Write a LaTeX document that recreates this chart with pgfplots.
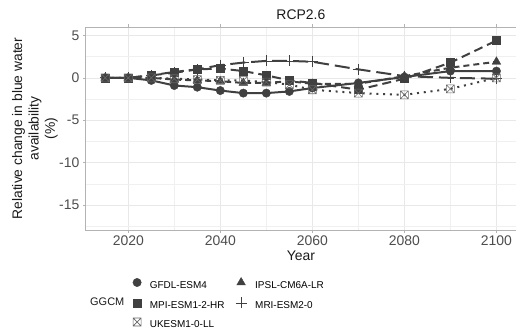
\documentclass[border=0pt]{standalone}
\usepackage{pgfplots}
\usepackage{pgfplotstable}
\pgfplotsset{compat=1.18}
\usepackage{fontspec}
\setmainfont{Liberation Sans}

\definecolor{ser}{RGB}{64,64,64}
\definecolor{gridmaj}{RGB}{232,232,232}
\definecolor{gridmin}{RGB}{240,240,240}
\definecolor{frame}{RGB}{179,179,179}
\definecolor{ticktext}{RGB}{77,77,77}
\definecolor{titletext}{RGB}{26,26,26}

% open square with a cross inside
\pgfdeclareplotmark{boxx}{%
  \pgfpathrectangle{\pgfpoint{-\pgfplotmarksize}{-\pgfplotmarksize}}{\pgfpoint{2\pgfplotmarksize}{2\pgfplotmarksize}}%
  \pgfpathmoveto{\pgfpoint{-\pgfplotmarksize}{-\pgfplotmarksize}}%
  \pgfpathlineto{\pgfpoint{\pgfplotmarksize}{\pgfplotmarksize}}%
  \pgfpathmoveto{\pgfpoint{-\pgfplotmarksize}{\pgfplotmarksize}}%
  \pgfpathlineto{\pgfpoint{\pgfplotmarksize}{-\pgfplotmarksize}}%
  \pgfusepathqstroke}

% relative change in blue water availability (%), RCP2.6
\pgfplotstableread{
year  gfdl  ipsl  mpi   mri   ukesm
2015  0.0   0.0   0.0   0.0   0.0
2020  0.0   0.0   0.0   0.0   0.0
2025 -0.3   0.0   0.3   0.3   0.0
2030 -0.9  -0.2   0.7   0.6  -0.1
2035 -1.1  -0.3   1.0   1.0  -0.2
2040 -1.5  -0.4   1.1   1.5  -0.3
2045 -1.8  -0.6   0.8   1.8  -0.3
2050 -1.8  -0.6   0.3   2.0  -0.5
2055 -1.6  -0.4  -0.3   2.0  -0.8
2060 -1.2  -0.7  -0.6   1.9  -1.4
2070 -0.6  -0.7  -1.4   1.0  -1.8
2080  0.1   0.2  -0.1   0.2  -2.0
2090  0.8   1.2   1.8   0.0  -1.3
2100  0.8   1.9   4.4  -0.1   0.0
}\rcp

\begin{document}
\begin{tikzpicture}
\useasboundingbox (0,0) rectangle (516bp,336bp);
\begin{axis}[
  at={(85.7bp,106bp)}, anchor=south west,
  scale only axis, width=430.3bp, height=203bp,
  clip=false,
  xmin=2010.75, xmax=2104.25, ymin=-17.95, ymax=6.0,
  xtick={2020,2040,2060,2080,2100},
  minor xtick={2030,2050,2070,2090},
  ytick={-15,-10,-5,0,5},
  minor ytick={-17.5,-12.5,-7.5,-2.5,2.5},
  xticklabel style={/pgf/number format/1000 sep={}},
  /pgf/number format/assume math mode=true,
  grid=both,
  major grid style={gridmaj, line width=0.6bp},
  minor grid style={gridmin, line width=0.4bp},
  axis line style={frame, line width=0.7bp},
  tick align=outside, major tick length=2.5bp, minor tick length=0pt,
  tick style={frame, line width=0.6bp},
  ticklabel style={font=\fontsize{14}{16}\selectfont, text=ticktext},
  yticklabel style={xshift=-0.3bp},
  title={RCP2.6},
  every axis title/.style={font=\fontsize{14}{16}\selectfont, text=titletext, at={(rel axis cs:0.5,1.059)}, anchor=center},
  xlabel={Year},
  xlabel style={font=\fontsize{14}{16}\selectfont, text=titletext, at={(rel axis cs:0.5,-0.128)}, anchor=center},
  ylabel={Relative change in blue water\\availability\\(\%)},
  ylabel style={font=\fontsize{13.9}{16.5}\selectfont, text=titletext, align=center, at={(rel axis cs:-0.118,0.5)}, anchor=center},
  legend columns=2,
  legend cell align=left,
  legend style={
    at={(rel axis cs:0.1092,-0.2330)}, anchor=north west,
    draw=none, fill=none, inner sep=0pt,
    font=\fontsize{10}{12}\selectfont,
    nodes={inner sep=0pt, text height=7bp, text depth=2bp},
    column sep=8.6bp, row sep=7bp,
    /tikz/column 2/.style={column sep=11bp},
  },
  legend image code/.code={\draw[#1] plot[only marks] coordinates {(0bp,3.5bp)};},
]
% lines
\addplot[ser, line width=2bp, solid, forget plot] table[x=year, y=gfdl] {\rcp};
\addplot[ser, line width=2bp, dash pattern=on 6bp off 4bp, forget plot] table[x=year, y=ipsl] {\rcp};
\addplot[ser, line width=2bp, dash pattern=on 9bp off 5bp, forget plot] table[x=year, y=mpi] {\rcp};
\addplot[ser, line width=2bp, dash pattern=on 15bp off 6bp, forget plot] table[x=year, y=mri] {\rcp};
\addplot[ser, line width=2bp, dash pattern=on 2bp off 4.8bp, forget plot] table[x=year, y=ukesm] {\rcp};
% points
\addplot[ser, only marks, mark=*, mark size=4.2bp] table[x=year, y=gfdl] {\rcp};
\addlegendentry{GFDL-ESM4}
\addplot[ser, only marks, mark=triangle*, mark size=5bp] table[x=year, y=ipsl] {\rcp};
\addlegendentry{IPSL-CM6A-LR}
\addplot[ser, only marks, mark=square*, mark size=3.9bp] table[x=year, y=mpi] {\rcp};
\addlegendentry{MPI-ESM1-2-HR}
\addplot[ser, only marks, mark=+, mark size=5.5bp, mark options={line width=0.8bp}] table[x=year, y=mri] {\rcp};
\addlegendentry{MRI-ESM2-0}
\addplot[ser!80, only marks, mark=boxx, mark size=4bp, mark options={line width=0.6bp}] table[x=year, y=ukesm] {\rcp};
\addlegendentry{UKESM1-0-LL}
\node[anchor=west, font=\fontsize{11}{13}\selectfont, text=titletext, inner sep=0pt] at (rel axis cs:0.01,-0.353) {GGCM};
\end{axis}
\end{tikzpicture}
\end{document}
